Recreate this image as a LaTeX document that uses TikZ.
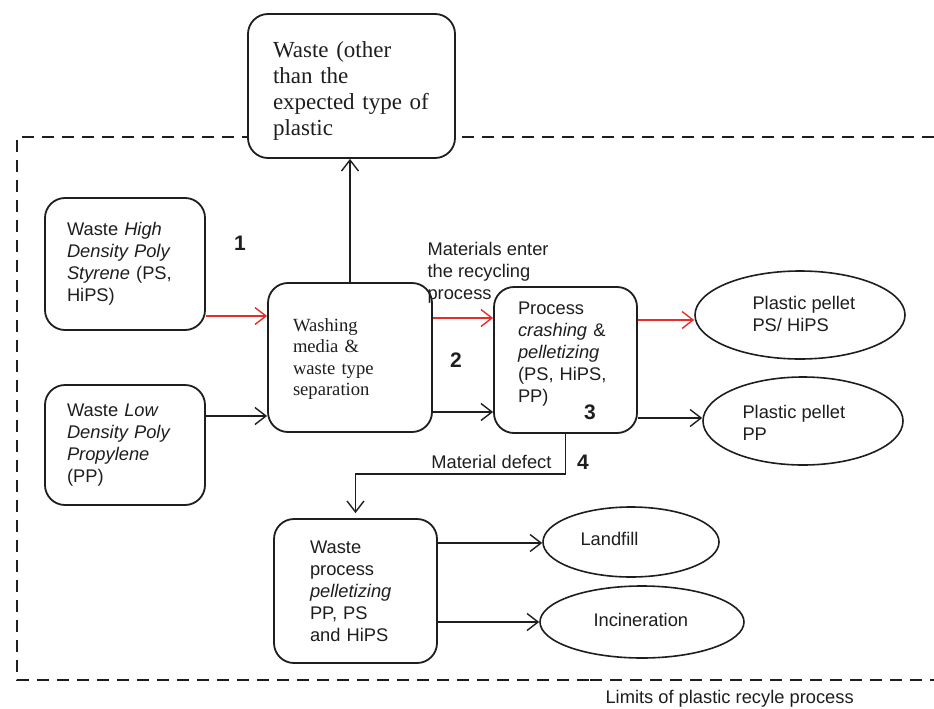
\documentclass[tikz,border=0pt]{standalone}
\usepackage{fontspec}
\setmainfont{Liberation Sans}
\newfontfamily\serifrm{Liberation Serif}
\usetikzlibrary{arrows.meta,shapes.geometric,calc}
\definecolor{arrred}{RGB}{232,44,44}
\definecolor{ink}{RGB}{30,30,30}
\begin{document}
\begin{tikzpicture}[x=1pt,y=-1pt,
  every node/.style={text=ink},
  box/.style={draw=ink,line width=1.8pt,rounded corners=20pt,fill=white,inner sep=0pt,align=left},
  oval/.style={draw=ink,ellipse,line width=1.6pt,inner sep=0pt,fill=white},
  sans/.style={font=\fontsize{18.3}{22}\selectfont},
  serifbig/.style={font=\serifrm\fontsize{23}{25.7}\selectfont},
  serifmid/.style={font=\serifrm\fontsize{18.6}{21.5}\selectfont},
  num/.style={font=\bfseries\fontsize{21}{24}\selectfont},
  arr/.style={draw=ink,line width=1.4pt,-{Straight Barb[length=11pt,width=17pt,line width=1.4pt]}},
  redarr/.style={arr,draw=arrred},
  limit/.style={draw=ink,line width=2pt,dash pattern=on 12pt off 8pt},
]
\useasboundingbox (0,0) rectangle (934,709);

% boundary of the process
\draw[limit] (934,137) -- (17,137) -- (17,680) -- (590,680);
\draw[limit,line width=1.1pt] (590,680) -- (934,680);

% boxes
\node[box,serifbig,minimum width=207pt,minimum height=144pt,text width=157pt] (top) at (351.5,86)
  {\vphantom{A}\\[-15pt]\mbox{Waste (other}\\\mbox{than the}\\\mbox{expected type of}\\\mbox{plastic}};
\node[box,sans,minimum width=160pt,minimum height=132pt,text width=116pt] (b1) at (125,264)
  {Waste \textit{High}\\\textit{Density Poly}\\\textit{Styrene} (PS,\\HiPS)};
\node[box,sans,minimum width=160pt,minimum height=120pt,text width=116pt] (b2) at (125,445)
  {Waste \textit{Low}\\\textit{Density Poly}\\\textit{Propylene}\\(PP)};
\node[box,serifmid,minimum width=164pt,minimum height=149pt,text width=114pt] (wash) at (350,357.5)
  {\vphantom{A}\\[-18pt]Washing\\media \&\\waste type\\separation};
\node[box,sans,minimum width=143pt,minimum height=146pt,text width=95pt] (proc) at (565.5,360)
  {\vphantom{A}\\[-20pt]Process\\\textit{crashing} \&\\\textit{pelletizing}\\(PS, HiPS,\\PP)\\[-4pt]\vphantom{A}};
\node[box,sans,minimum width=163pt,minimum height=144pt,text width=91pt] (wp) at (355.5,591)
  {Waste\\process\\\textit{pelletizing}\\PP, PS\\and HiPS};

% ellipses
\node[oval,minimum width=210pt,minimum height=88pt] (psel) at (800,315) {};
\node[sans,anchor=west,align=left] (pstxt) at (749,314) {Plastic pellet\\PS/ HiPS};
\node[oval,minimum width=200pt,minimum height=88pt] (ppel) at (803,421) {};
\node[sans,anchor=west,align=left] (pptxt) at (739,423) {Plastic pellet\\PP};
\node[oval,minimum width=176pt,minimum height=70pt] (land) at (631,542) {};
\node[sans,anchor=west] (landtxt) at (577,539) {Landfill};
\node[oval,minimum width=204pt,minimum height=72pt] (inc) at (642,622) {};
\node[sans,anchor=west] (inctxt) at (590,620) {Incineration};

% labels
\node[sans,anchor=west,align=left] (enter) at (424,273) {Materials enter\\the recycling\\process};
\node[num] (n1) at (240,243) {1};
\node[num] (n2) at (456,360) {2};
\node[num] (n3) at (590,412) {3};
\node[num] (n4) at (583,462) {4};
\node[sans,anchor=base east] (defect) at (555,468) {Material defect};
\node[sans,anchor=west] (limits) at (602,699) {Limits of plastic recyle process};

% connectors
\draw[redarr] (b1.east |- 0,316) -- (wash.west |- 0,316);
\draw[arr] (b2.east |- 0,416) -- (wash.west |- 0,416);
\draw[redarr] (wash.east |- 0,318) -- (proc.west |- 0,318);
\draw[arr] (wash.east |- 0,412) -- (proc.west |- 0,412);
\draw[redarr] (proc.east |- 0,320) -- (psel.west |- 0,320);
\draw[arr] (proc.east |- 0,418) -- (ppel.west |- 0,418);
\draw[arr] (wash.north) -- (wash.north |- top.south);
\draw[arr,shorten >=5pt] (proc.south) -- (proc.south |- 0,474) -| (wp.north);
\draw[arr] (wp.east |- 0,543) -- (land.west |- 0,543);
\draw[arr] (wp.east |- 0,622) -- (inc.west);
\end{tikzpicture}
\end{document}
